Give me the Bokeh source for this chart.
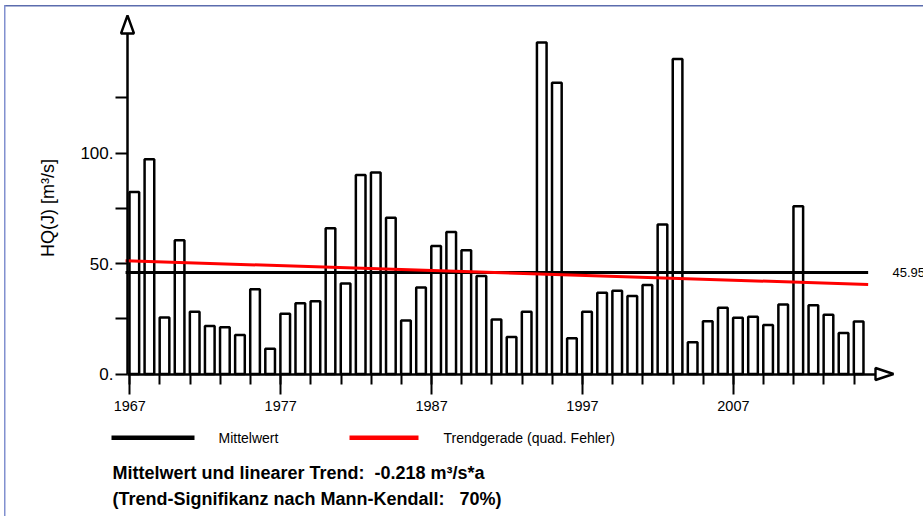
import math
from bokeh.plotting import figure
from bokeh.models import Range1d, FixedTicker, Label, PolyAnnotation, BoxAnnotation
from bokeh.embed import file_html
from bokeh.resources import INLINE

# ---------------- data ----------------
years = list(range(1967, 2016))
hq = [82.3, 97.2, 25.6, 60.5, 28.2, 21.7, 21.2, 17.6, 38.3, 11.4,
      27.3, 32.0, 32.9, 66.0, 40.9, 90.1, 91.2, 70.7, 24.2, 39.1,
      57.9, 64.2, 56.0, 44.4, 24.7, 16.7, 28.2, 150.0, 131.8, 16.2,
      28.2, 36.8, 37.7, 35.3, 40.3, 67.7, 142.5, 14.4, 23.9, 30.0,
      25.5, 25.9, 22.2, 31.5, 75.9, 31.1, 26.8, 18.5, 23.8]
mean_value = 45.95
mean_label = "45.95"
trend_slope = -0.218
x_major_ticks = [1967, 1977, 1987, 1997, 2007]
x_minor_ticks = list(range(1967, 2016, 2))
y_major_ticks = [0, 50, 100]
y_major_labels = ["0.", "50.", "100."]
y_minor_ticks = [25, 75, 125]
legend_labels = ["Mittelwert", "Trendgerade (quad. Fehler)"]
y_axis_title = "HQ(J) [m³/s]"
note_line1 = "Mittelwert und linearer Trend:\u00a0 -0.218 m³/s*a"
note_line2 = "(Trend-Signifikanz nach Mann-Kendall:\u00a0\u00a0 70%)"

# ---------------- geometry (canvas pixels) ----------------
W, H = 923, 516
AX_X, AX_Y = 127, 373.5        # where the axes cross
TOP_TIP, RIGHT_TIP = 15, 893   # arrow tips
PX_YEAR = 15.09
PX_UNIT = 2.21
XL = years[0] - 129.3 / PX_YEAR


def dx(px):
    return XL + px / PX_YEAR


def dy(py):
    return (AX_Y - py) / PX_UNIT


FONT = "Liberation Sans"

p = figure(width=W, height=H, x_range=Range1d(dx(0), dx(W)), y_range=Range1d(dy(H), dy(0)),
           output_backend="svg", toolbar_location=None)
p.min_border = 0
p.min_border_left = 0
p.min_border_right = 0
p.min_border_top = 0
p.min_border_bottom = 0
p.xgrid.visible = False
p.ygrid.visible = False
p.outline_line_color = None
p.background_fill_color = "white"
p.border_fill_color = "white"

xa = p.xaxis[0]
xa.fixed_location = 0
xa.bounds = (dx(AX_X), dx(880))
xa.ticker = FixedTicker(ticks=x_major_ticks, minor_ticks=x_minor_ticks)
xa.major_label_overrides = {t: str(t) for t in x_major_ticks}
xa.axis_line_width = 2.5
xa.major_tick_out = 20
xa.major_tick_in = 0
xa.minor_tick_out = 10
xa.minor_tick_in = 0
xa.major_tick_line_width = 2
xa.minor_tick_line_width = 2
xa.major_label_text_font = FONT
xa.major_label_text_font_size = "14.5px"
xa.major_label_text_color = "black"
xa.major_label_standoff = 7

ya = p.yaxis[0]
ya.fixed_location = dx(AX_X)
ya.bounds = (0, dy(30))
ya.ticker = FixedTicker(ticks=y_major_ticks, minor_ticks=y_minor_ticks)
ya.major_label_overrides = dict(zip(y_major_ticks, y_major_labels))
ya.axis_line_width = 2.5
ya.major_tick_out = 12
ya.major_tick_in = 0
ya.minor_tick_out = 12
ya.minor_tick_in = 0
ya.major_tick_line_width = 2
ya.minor_tick_line_width = 2
ya.major_label_text_font = FONT
ya.major_label_text_font_size = "17px"
ya.major_label_text_color = "black"
ya.major_label_standoff = 2

# bars
p.vbar(x=[y + 0.3 for y in years], width=0.64, bottom=0, top=hq,
       fill_color="white", line_color="black", line_width=2.5)

# mean and trend lines
xs_line = [years[0] - 0.28, years[-1] + 0.93]
xc = (years[0] + years[-1]) / 2
p.line(xs_line, [mean_value, mean_value], line_color="black", line_width=3)
p.line(xs_line, [mean_value + trend_slope * (x - xc) for x in xs_line],
       line_color="#ff0000", line_width=3)

# axis arrow heads
p.add_layout(PolyAnnotation(xs=[dx(AX_X), dx(AX_X - 6.5), dx(AX_X + 6.5)],
                            ys=[dy(TOP_TIP), dy(33), dy(33)],
                            fill_color="white", fill_alpha=1, line_color="black",
                            line_alpha=1, line_width=2.4))
p.add_layout(PolyAnnotation(xs=[dx(RIGHT_TIP), dx(875), dx(875)],
                            ys=[0, dy(AX_Y - 6), dy(AX_Y + 6)],
                            fill_color="white", fill_alpha=1, line_color="black",
                            line_alpha=1, line_width=2.4))

# mean value label
p.add_layout(Label(x=dx(892), y=mean_value, text=mean_label, text_font=FONT,
                   text_font_size="13px", text_baseline="middle", text_color="black"))

# y axis title
p.add_layout(Label(x=dx(47), y=dy(207.5), text=y_axis_title, angle=math.pi / 2,
                   text_font=FONT, text_font_size="18px", text_align="center",
                   text_baseline="middle", text_color="black"))

# legend
p.add_layout(BoxAnnotation(left=dx(111), right=dx(194), top=dy(435), bottom=dy(439.5),
                           fill_color="black", fill_alpha=1, line_color=None))
p.add_layout(BoxAnnotation(left=dx(349), right=dx(418), top=dy(435), bottom=dy(439.5),
                           fill_color="#ff0000", fill_alpha=1, line_color=None))
p.add_layout(Label(x=dx(218), y=dy(437.5), text=legend_labels[0], text_font=FONT,
                   text_font_size="14px", text_baseline="middle", text_color="black"))
p.add_layout(Label(x=dx(443), y=dy(437.5), text=legend_labels[1], text_font=FONT,
                   text_font_size="14px", text_baseline="middle", text_color="black"))

# notes
p.add_layout(Label(x=dx(112), y=dy(472), text=note_line1, text_font=FONT,
                   text_font_size="18px", text_font_style="bold",
                   text_baseline="middle", text_color="black"))
p.add_layout(Label(x=dx(112), y=dy(498.5), text=note_line2, text_font=FONT,
                   text_font_size="18px", text_font_style="bold",
                   text_baseline="middle", text_color="black"))

# page frame (top and left edges)
p.add_layout(BoxAnnotation(left=dx(4), right=dx(W), top=dy(4.5), bottom=dy(6),
                           fill_color="#5b6cad", fill_alpha=1, line_color=None))
p.add_layout(BoxAnnotation(left=dx(3.5), right=dx(5), top=dy(4.5), bottom=dy(H),
                           fill_color="#8190cf", fill_alpha=1, line_color=None))

open("out.html", "w").write(file_html(p, INLINE))
